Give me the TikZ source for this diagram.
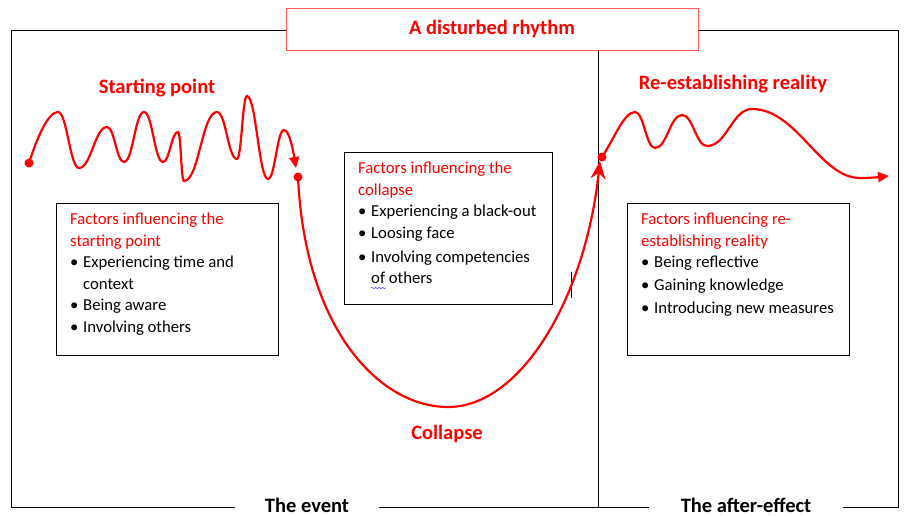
\documentclass[tikz,border=0pt]{standalone}
\usepackage{fontspec}
\setmainfont{Carlito}
\usetikzlibrary{arrows.meta,decorations.pathmorphing}
\definecolor{wred}{RGB}{255,0,0}
\definecolor{tred}{RGB}{255,90,90}
\newcommand\wbul{\makebox[13pt][l]{\textbullet}}
\begin{document}
\begin{tikzpicture}[x=1pt,y=-1pt,
  curve/.style={wred,line width=2.2pt},
  dot/.style={circle,fill=wred,inner sep=0pt,minimum size=9pt},
  frame/.style={black,line width=0.8pt},
  factbox/.style={draw=black,line width=0.8pt,rectangle,inner sep=0pt,anchor=north west},
  facttext/.style={anchor=north west,inner sep=0pt,align=left,font=\fontsize{16.7}{21.5}\selectfont},
  lbl/.style={text=wred,font=\bfseries\fontsize{20.5}{24}\selectfont},
  phase/.style={font=\bfseries\fontsize{20.5}{24}\selectfont,fill=white,inner ysep=0pt}]
\useasboundingbox (0,0) rectangle (905,515);
% title and frame
\node[draw=tred,line width=1pt,fill=white,minimum width=412pt,minimum height=42pt,inner sep=0pt,
      text=wred,font=\bfseries\fontsize{20.5}{24}\selectfont] (title) at (492,29) {A disturbed rhythm};
\node[phase,inner xsep=30pt] (ev) at (307,505) {The event};
\node[phase,inner xsep=32pt] (ae) at (746,505) {The after-effect};
\draw[frame] (title.west |- 0,30) -- (11,30) -- (11,507) -- (ev.west |- 0,507);
\draw[frame] (ev.east |- 0,507) -- (ae.west |- 0,507);
\draw[frame] (ae.east |- 0,507) -- (898,507) -- (898,30) -- (title.east |- 0,30);
\draw[frame] (598,0 |- title.south) -- (598,507);
% factor boxes
\node[factbox,minimum width=222pt,minimum height=152pt] (b1) at (56,203) {};
\node[facttext] (t1) at (70,213) {\textcolor{wred}{Factors influencing the}\\
  \textcolor{wred}{starting point}\\
  \wbul Experiencing time and\\
  \hspace*{13pt}context\\
  \wbul Being aware\\
  \wbul Involving others};
\node[factbox,minimum width=208pt,minimum height=152pt] (b2) at (344,152) {};
\node[facttext] (t2) at (358,162) {\textcolor{wred}{Factors influencing the}\\
  \textcolor{wred}{collapse}\\
  \wbul Experiencing a black-out\\[0.5pt]
  \wbul Loosing face\\[2pt]
  \wbul Involving competencies\\
  \hspace*{13pt}of others};
\node[factbox,minimum width=222pt,minimum height=152pt] (b3) at (627,203) {};
\node[facttext] (t3) at (641,213) {\textcolor{wred}{Factors influencing re-}\\
  \textcolor{wred}{establishing reality}\\
  \wbul Being reflective\\[1pt]
  \wbul Gaining knowledge\\[1.5pt]
  \wbul Introducing new measures};
% cursor and spell-check mark
\draw[black,line width=0.6pt] (571,272) -- (571,298);
\draw[blue!70,line width=0.5pt,decorate,decoration={snake,amplitude=0.8pt,segment length=3.5pt}] (371,288) -- (386,288);
% labels
\node[lbl] (sp) at (157,88) {Starting point};
\node[lbl] (re) at (733,84) {Re-establishing reality};
\node[lbl] (col) at (447,434) {Collapse};
% dots
\node[dot] (d1) at (29,163) {};
\node[dot] (d2) at (298,177) {};
\node[dot] (d3) at (602,157) {};
\coordinate (e1) at (296,168);
\coordinate (e2) at (600,161);
\coordinate (e3) at (889,176);
% wave 1
\draw[curve,-{Triangle[length=11pt,width=10pt]}] (d1.center)
 .. controls +(8,-25) and +(-10,0) .. (58,112)
 .. controls +(9,0) and +(-9,0) .. (79,168)
 .. controls +(12,0) and +(-12,0) .. (107,127)
 .. controls +(7.5,0) and +(-7.5,0) .. (124,162)
 .. controls +(9,0) and +(-9,0) .. (144,112)
 .. controls +(8.5,0) and +(-8.5,0) .. (163,162)
 .. controls +(6.5,0) and +(-6.5,0) .. (178,132)
 .. controls +(3,0) and +(-3,0) .. (184,181)
 .. controls +(15,0) and +(-15,0) .. (217,112)
 .. controls +(9,0) and +(-9,0) .. (237,159)
 .. controls +(4.5,0) and +(-4.5,0) .. (247,96)
 .. controls +(9,0) and +(-9,0) .. (268,179)
 .. controls +(7,0) and +(-7,0) .. (284,130)
 .. controls +(6,0) and +(-2,-12) .. (e1);
% collapse
\draw[curve,-{Stealth[length=18pt,width=15pt,inset=6pt]}] (d2.center)
 .. controls (305,330) and (380,407) .. (448,407)
 .. controls (520,407) and (585,300) .. (e2);
% wave 2
\draw[curve,-{Triangle[length=11pt,width=10pt]}] (d3.center)
 .. controls +(12,-18) and +(-11,0) .. (635,112)
 .. controls +(9,0) and +(-9,0) .. (655,148)
 .. controls +(12,0) and +(-12,0) .. (682,115)
 .. controls +(11,0) and +(-11,0) .. (707,146)
 .. controls +(20,0) and +(-20,0) .. (752,109)
 .. controls +(45,0) and +(-40,0) .. (860,178)
 .. controls +(12,0) and +(-10,1) .. (e3);
\end{tikzpicture}
\end{document}
